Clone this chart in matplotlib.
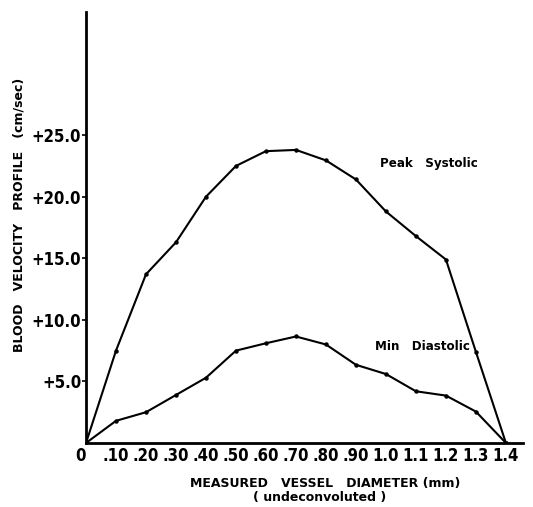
import matplotlib
matplotlib.use("Agg")
import matplotlib.pyplot as plt
from matplotlib import font_manager
from matplotlib.font_manager import FontProperties

diameter = [0.0, 0.1, 0.2, 0.3, 0.4, 0.5, 0.6, 0.7, 0.8, 0.9, 1.0, 1.1, 1.2, 1.3, 1.4]
peak_systolic = [0.0, 7.5, 13.7, 16.3, 20.0, 22.5, 23.7, 23.8, 22.95, 21.4, 18.8, 16.8, 14.9, 7.4, 0.0]
min_diastolic = [0.0, 1.8, 2.5, 3.9, 5.3, 7.5, 8.1, 8.65, 8.0, 6.35, 5.6, 4.2, 3.85, 2.55, 0.0]

x_ticks = [0.0, 0.1, 0.2, 0.3, 0.4, 0.5, 0.6, 0.7, 0.8, 0.9, 1.0, 1.1, 1.2, 1.3, 1.4]
x_tick_labels = ["0", ".10", ".20", ".30", ".40", ".50", ".60", ".70", ".80", ".90", "1.0", "1.1", "1.2", "1.3", "1.4"]
y_ticks = [5, 10, 15, 20, 25]
y_tick_labels = ["+5.0", "+10.0", "+15.0", "+20.0", "+25.0"]

# pick the most condensed bold font that is installed
stretch_rank = {"ultra-condensed": 0, "extra-condensed": 1, "condensed": 2, "semi-condensed": 3}
best = None
for f in font_manager.fontManager.ttflist:
    st = f.stretch if isinstance(f.stretch, str) else ""
    name_l = f.name.lower()
    is_cond = st in stretch_rank or "narrow" in name_l or "condensed" in name_l
    w = f.weight if isinstance(f.weight, int) else (700 if "bold" in str(f.weight) else 400)
    if is_cond and w >= 600 and f.style == "normal":
        r = stretch_rank.get(st, 2)
        key = (abs(r - 1), abs(w - 700))
        if best is None or key < best[0]:
            best = (key, f.fname)
if best is not None:
    cond_prop = FontProperties(fname=best[1], size=12)
else:
    cond_prop = FontProperties(family="DejaVu Sans", weight="bold", size=10)

fig = plt.figure(figsize=(5.33, 5.07), dpi=100)
ax = fig.add_axes([86/533, 1-443/507, (523-86)/533, (443-12)/507])

ax.plot(diameter, peak_systolic, color="black", lw=1.5, marker="o", ms=2.2)
ax.plot(diameter, min_diastolic, color="black", lw=1.5, marker="o", ms=2.2)

ax.set_xlim(0, 1.457)
ax.set_ylim(0, 35)
for s in ["top", "right"]:
    ax.spines[s].set_visible(False)
for s in ["left", "bottom"]:
    ax.spines[s].set_linewidth(2)

ax.set_xticks(x_ticks)
ax.set_xticklabels(x_tick_labels, fontproperties=cond_prop)
ax.set_yticks(y_ticks)
ax.set_yticklabels(y_tick_labels, fontproperties=cond_prop)
ax.tick_params(axis="x", length=0, pad=3)
ax.tick_params(axis="y", length=3, width=1.2, pad=0.5)
ax.get_xticklabels()[0].set_horizontalalignment("right")

ax.text(0.98, 22.7, "Peak   Systolic", fontsize=8.6, fontweight="bold", fontfamily="DejaVu Sans", va="center")
ax.text(0.965, 7.8, "Min   Diastolic", fontsize=8.6, fontweight="bold", fontfamily="DejaVu Sans", va="center")

fig.text(325/533, 1-483/507, "MEASURED   VESSEL   DIAMETER (mm)", ha="center", va="center",
         fontsize=9, fontweight="bold", fontfamily="DejaVu Sans")
fig.text(320/533, 1-497/507, "( undeconvoluted )", ha="center", va="center",
         fontsize=9, fontweight="bold", fontfamily="DejaVu Sans")
fig.text(19/533, 1-215/507, "BLOOD   VELOCITY   PROFILE   (cm/sec)", ha="center", va="center",
         rotation=90, fontsize=9, fontweight="bold", fontfamily="DejaVu Sans")

fig.savefig("out.png", dpi=100)
